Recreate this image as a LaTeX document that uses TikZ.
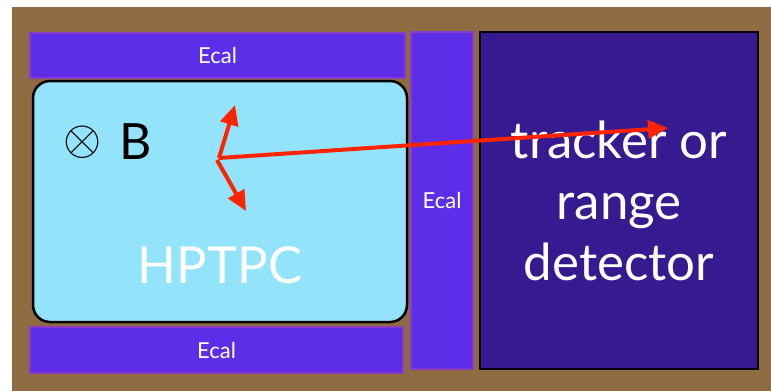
\documentclass[tikz,border=0pt]{standalone}
\usepackage{graphicx}
\usepackage{fontspec}
\setmainfont{Lato}
\usetikzlibrary{arrows.meta}

\definecolor{wood}{RGB}{143,107,66}
\definecolor{ecalfill}{RGB}{92,46,232}
\definecolor{ecaledge}{RGB}{140,58,205}
\definecolor{tpcfill}{RGB}{147,227,251}
\definecolor{trkfill}{RGB}{55,26,143}
\definecolor{track}{RGB}{255,36,0}

\tikzset{
  ecalbox/.style={draw=ecaledge, line width=2pt, fill=ecalfill, text=white,
    font=\fontsize{22}{22}\selectfont, inner sep=0pt},
  tpcbox/.style={draw=black, line width=2.5pt, fill=tpcfill, rounded corners=17pt},
  trkbox/.style={draw=black, line width=2.5pt, fill=trkfill, text=white,
    align=center, font=\fontsize{51}{61}\selectfont, inner sep=0pt},
  bigtext/.style={font=\fontsize{51}{51}\selectfont, inner sep=0pt},
  trackline/.style={draw=track, line width=4pt,
    -{Triangle[length=20pt, width=18pt]}},
}

\begin{document}
\begin{tikzpicture}[x=1pt, y=-1pt]
  % page frame and wooden backdrop
  \useasboundingbox (0,0) rectangle (771,391);
  \fill[wood] (12,7) rectangle (771,391);

  % calorimeter slabs
  \node[ecalbox, minimum width=375pt, minimum height=45pt] (ecaltop) at (217.5,55.5) {Ecal};
  \node[ecalbox, minimum width=373pt, minimum height=46pt] (ecalbot) at (216.5,350) {Ecal};
  \node[ecalbox, minimum width=62pt, minimum height=337pt] (ecalside) at (442,200.5) {Ecal};

  % gas TPC
  \node[tpcbox, minimum width=374pt, minimum height=241pt] (tpc) at (220,201.5) {};
  \node[bigtext, text=white, anchor=base] (tpclabel) at (220,283) {HPTPC};

  % magnetic field into the page
  \node[inner sep=0pt] (bsym) at (83,142.5) {\scalebox{4.9}{$\otimes$}};
  \node[font=\fontsize{50}{50}\selectfont, inner sep=0pt, anchor=base west] (blabel) at (119,159) {B};

  % downstream detector
  \node[trkbox, minimum width=278pt, minimum height=337pt] (trk) at (619,200.5) {tracker or\\range\\detector};

  % outgoing tracks from the interaction vertex
  \coordinate (vtx) at (219,158);
  \coordinate (vtxlow) at (217,160);
  \coordinate (up) at (235,105);
  \coordinate (down) at (246,211);
  \coordinate (fwd) at (668,128);
  \draw[trackline] (vtx) -- (up);
  \draw[trackline] (vtxlow) -- (down);
  \draw[trackline] (vtx) -- (fwd);
\end{tikzpicture}
\end{document}
